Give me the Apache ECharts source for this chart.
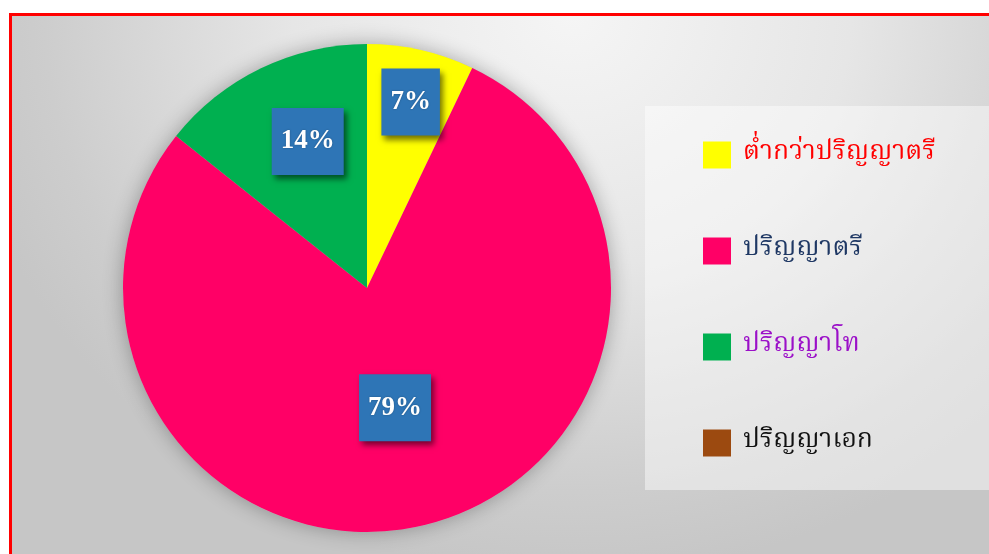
<!DOCTYPE html>
<html>
<head>
<meta charset="utf-8">
<script src="https://cdn.jsdelivr.net/npm/echarts@6/dist/echarts.min.js"></script>
<style>
html,body{margin:0;padding:0;width:989px;height:554px;overflow:hidden;background:#fff;}
#frame{position:absolute;left:9px;top:13px;width:1000px;height:560px;border-top:3px solid #ff0000;border-left:3px solid #ff0000;
background:radial-gradient(ellipse 620px 560px at 560px 0px,#f5f5f5 0%,#e6e6e6 45%,#cdcdcd 85%,#c6c6c6 100%);}
#chart{position:absolute;left:0;top:0;width:989px;height:554px;}
</style>
</head>
<body>
<div id="frame"></div>
<div id="chart"></div>
<script>
const categories = ['ต่ำกว่าปริญญาตรี', 'ปริญญาตรี', 'ปริญญาโท', 'ปริญญาเอก'];
const values = [7.1, 78.6, 14.3, 0];

const sliceColors = ['#FFFF00', '#FF0066', '#00B050', '#9C4A10'];
const legendTextColors = ['#FF0000', '#1F3864', '#9B10C8', '#111111'];
const labelOffsets = [[16, -64], [0, -2], [-5, -34], [0, 0]];

const chart = echarts.init(document.getElementById('chart'), null, {renderer: 'canvas'});
const thaiFont = '"Noto Serif Thai","Tlwg Typo","Norasi","Kinnari","Noto Sans Thai",serif';

const pieData = categories.map((name, i) => ({
  name: name,
  value: values[i],
  itemStyle: {color: sliceColors[i]},
  label: {show: values[i] > 0, offset: labelOffsets[i]}
}));

chart.setOption({
  backgroundColor: 'transparent',
  animation: false,
  graphic: [{
    type: 'rect', left: 645, top: 106, z: 0,
    shape: {width: 350, height: 384},
    style: {fill: 'rgba(255,255,255,0.45)'}
  }],
  legend: {
    orient: 'vertical',
    left: 703, top: 140,
    padding: 0,
    itemWidth: 28, itemHeight: 27, itemGap: 66,
    icon: 'rect',
    selectedMode: false,
    textStyle: {fontFamily: thaiFont, fontSize: 26.5, lineHeight: 30, padding: [0, 0, 0, 7]},
    data: categories.map((c, i) => ({name: c, textStyle: {color: legendTextColors[i]}}))
  },
  series: [{
    type: 'pie',
    silent: true,
    center: [367, 288], radius: 244,
    z: 1,
    label: {show: false}, labelLine: {show: false},
    itemStyle: {color: '#bbbbbb', shadowBlur: 20, shadowColor: 'rgba(0,0,0,0.3)'},
    data: [{name: '', value: 1}],
    legendHoverLink: false
  }, {
    type: 'pie',
    center: [367, 288], radius: 244,
    startAngle: 90, clockwise: true,
    z: 2,
    itemStyle: {borderWidth: 0},
    labelLine: {show: false},
    label: {
      position: 'inside',
      formatter: p => Math.round(p.percent) + '%',
      fontFamily: '"Liberation Serif","Times New Roman",serif',
      fontWeight: 'bold', fontSize: 27, lineHeight: 30, color: '#ffffff',
      backgroundColor: '#2E75B6',
      padding: [19, 9, 18, 9],
      shadowColor: 'rgba(0,0,0,0.55)', shadowBlur: 6, shadowOffsetX: 3, shadowOffsetY: 4,
      textShadowColor: 'rgba(0,0,0,0.3)', textShadowBlur: 2
    },
    emphasis: {disabled: true},
    data: pieData
  }]
});
</script>
</body>
</html>
